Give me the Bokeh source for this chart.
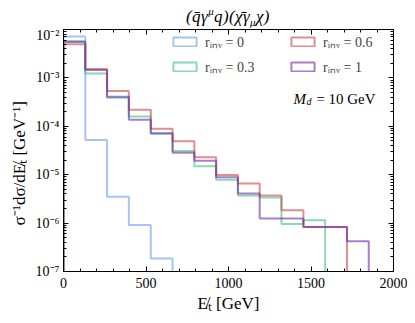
from bokeh.plotting import figure
from bokeh.models import (FixedTicker, LinearAxis, LogAxis, Legend, LegendItem,
                          Label, CustomJSTickFormatter, Div)
from bokeh.layouts import column
from bokeh.embed import file_html
from bokeh.resources import INLINE

# ---------------- data ----------------
bin_edges = [0, 132, 264, 396, 529, 661, 793, 925, 1057, 1189, 1321, 1454, 1586, 1718, 1850]
r_inv_0 = [7.2e-3, 5.2e-5, 3.5e-6, 9.1e-7, 1.86e-7, 0, 0, 0, 0, 0, 0, 0, 0, 0]
r_inv_03 = [5.8e-3, 1.23e-3, 3.9e-4, 1.59e-4, 7.0e-5, 3.1e-5, 1.5e-5, 7.9e-6, 3.7e-6,
            3.4e-6, 9.6e-7, 1.15e-6, 0, 0]
r_inv_06 = [4.95e-3, 1.53e-3, 5.37e-4, 2.19e-4, 8.9e-5, 4.9e-5, 2.3e-5, 9.9e-6, 6.6e-6,
            3.7e-6, 1.85e-6, 8.3e-7, 8.3e-7, 0]
r_inv_1 = [5.5e-3, 1.45e-3, 4.1e-4, 1.37e-4, 7.2e-5, 2.85e-5, 1.94e-5, 8.9e-6, 4.1e-6,
           1.25e-6, 1.25e-6, 8.3e-7, 8.3e-7, 4.2e-7]
series_labels = ["rᵢₙᵥ = 0", "rᵢₙᵥ = 0.3", "rᵢₙᵥ = 0.6", "rᵢₙᵥ = 1"]
series_colors = ["#6a9bea", "#3cbf7c", "#cc4545", "#6e28aa"]

x_ticks = [0, 500, 1000, 1500, 2000]
x_minor = [v for v in range(0, 2001, 100)]
y_ticks = [1e-7, 1e-6, 1e-5, 1e-4, 1e-3, 1e-2]
y_tick_labels = ["10⁻⁷", "10⁻⁶", "10⁻⁵", "10⁻⁴", "10⁻³", "10⁻²"]
y_minor = [m * 10.0 ** e for e in range(-8, -1) for m in range(1, 10)]

FLOOR = 1e-10
SERIF = "Liberation Serif"
TITLE_H = 27

title_div = Div(
    text=('<div style="width:330px;margin-left:63px;text-align:center;'
          'font-family:\'Liberation Serif\',serif;font-style:italic;font-size:17px;'
          'letter-spacing:0.4px;line-height:17px;padding-top:3px;color:black;">'
          '(q̄γ<sup style="font-size:11px">μ</sup>q)(χ̄γ<sub style="font-size:11px">μ</sub>χ)</div>'),
    width=407, height=TITLE_H, margin=(0, 0, 0, 0))

p = figure(width=407, height=315 - TITLE_H, x_range=(0, 2000), y_range=(1e-7, 1e-2),
           y_axis_type="log", output_backend="svg", toolbar_location=None,
           min_border_left=63, min_border_right=14, min_border_top=29 - TITLE_H,
           min_border_bottom=41, margin=(0, 0, 0, 0))
p.xgrid.visible = False
p.ygrid.visible = False
p.outline_line_color = "black"
p.outline_line_width = 1
p.background_fill_color = "white"


def step_path(edges, vals):
    xs = [edges[0]]
    ys = [FLOOR]
    for i, v in enumerate(vals):
        v = v if v > 0 else FLOOR
        xs += [edges[i], edges[i + 1]]
        ys += [v, v]
    xs.append(edges[-1])
    ys.append(FLOOR)
    return xs, ys


items = []
for vals, lab, col in zip([r_inv_0, r_inv_03, r_inv_06, r_inv_1], series_labels, series_colors):
    xs, ys = step_path(bin_edges, vals)
    p.line(xs, ys, line_color=col, line_alpha=0.6, line_width=2)
    # zero-size quad (off-screen) used only as the legend's box handle
    dummy = p.quad(left=[bin_edges[0]], right=[bin_edges[0]], top=[FLOOR], bottom=[FLOOR],
                   fill_color=None, line_color=col, line_alpha=0.6, line_width=2)
    items.append(LegendItem(label=lab, renderers=[dummy]))

legend = Legend(items=items, ncols=2, location=(107, 195), padding=0, margin=0,
                spacing=6, glyph_width=29, glyph_height=11, label_height=14,
                label_width=77, label_standoff=6, border_line_alpha=0,
                background_fill_alpha=0, label_text_font=SERIF,
                label_text_font_size="14px")
p.add_layout(legend)


def style_axis(ax, labels=True):
    ax.major_tick_in = 5
    ax.major_tick_out = 0
    ax.minor_tick_in = 3
    ax.minor_tick_out = 0
    ax.axis_line_color = "black"
    ax.major_tick_line_color = "black"
    ax.minor_tick_line_color = "black"
    ax.major_label_text_font = SERIF
    ax.major_label_text_font_size = "14px"
    ax.major_label_text_color = "black"
    ax.axis_label_text_font = SERIF
    ax.axis_label_text_font_size = "17px"
    ax.axis_label_text_font_style = "normal"
    ax.axis_label_text_color = "black"
    if not labels:
        ax.formatter = CustomJSTickFormatter(code="return ''")
        ax.major_label_standoff = 0


p.xaxis.ticker = FixedTicker(ticks=x_ticks, minor_ticks=x_minor)
p.yaxis.ticker = FixedTicker(ticks=y_ticks, minor_ticks=y_minor)
style_axis(p.xaxis[0])
style_axis(p.yaxis[0])
p.yaxis.major_label_overrides = {t: s for t, s in zip(y_ticks, y_tick_labels)}
p.xaxis.major_label_standoff = 6
p.yaxis.major_label_standoff = 4
p.xaxis.axis_label = "E̸ₜ [GeV]"
p.yaxis.axis_label = "σ⁻¹dσ/dE̸ₜ [GeV⁻¹]" + "\u00a0" * 6
p.xaxis.axis_label_standoff = 3
p.yaxis.axis_label_standoff = 4

top_ax = LinearAxis(ticker=FixedTicker(ticks=x_ticks, minor_ticks=x_minor))
style_axis(top_ax, labels=False)
p.add_layout(top_ax, "above")
right_ax = LogAxis(ticker=FixedTicker(ticks=y_ticks, minor_ticks=y_minor))
style_axis(right_ax, labels=False)
p.add_layout(right_ax, "right")


def add_text(txt, x, y, size, style="italic", align="left"):
    p.add_layout(Label(x=x, y=y, x_units="screen", y_units="screen", text=txt,
                       text_font=SERIF, text_font_size=size, text_font_style=style,
                       text_align=align, text_baseline="alphabetic", text_color="black"))


# M_d annotation (screen units relative to the frame's bottom-left)
my = 173
add_text("M", 230, my, "15px")
add_text("d", 243, my - 3, "10px")
add_text("=", 253, my, "15px", style="normal")
add_text("10 GeV", 312, my, "15px", style="normal", align="right")

layout = column(title_div, p, spacing=0, margin=(0, 0, 0, 0))
html = file_html(layout, INLINE)
open("out.html", "w").write(html)
